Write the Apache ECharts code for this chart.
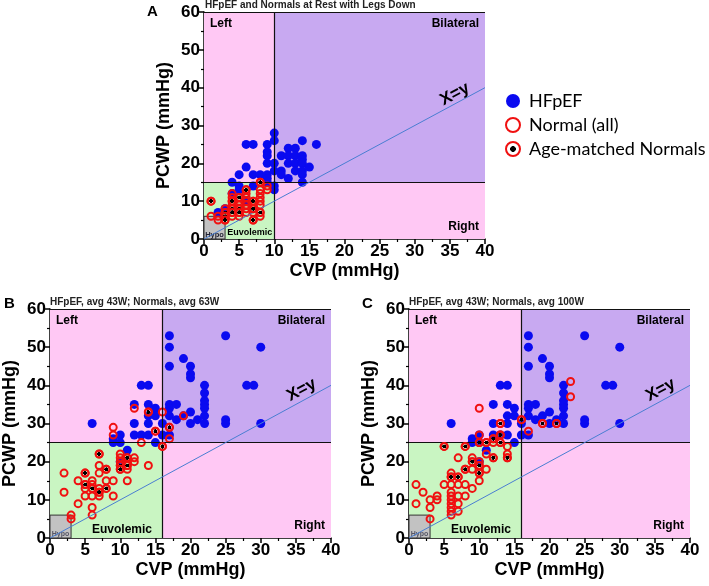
<!DOCTYPE html>
<html>
<head>
<meta charset="utf-8">
<script src="https://cdn.jsdelivr.net/npm/echarts@6/dist/echarts.min.js"></script>
<style>html,body{margin:0;padding:0;background:#fff;}#c{width:709px;height:586px;}</style>
</head>
<body>
<div id="c"></div>
<script>
// ---------------- DATA ----------------
const xTickValues = [0,5,10,15,20,25,30,35,40];
const yTickValues = [0,10,20,30,40,50,60];

const titleA = 'HFpEF and Normals at Rest with Legs Down';
const titleB = 'HFpEF, avg 43W; Normals, avg 63W';
const titleC = 'HFpEF, avg 43W; Normals, avg 100W';

// Panel A (rest, legs down)
const hfpefA = [[2,7],[3,8],[4,15],[4,12],[5,17],[5,14],[5,13],[6,25],[6,19],[6,10],[7,25],[7,17],[7,14],[8,17],
  [9,25],[9,23],[9,22],[9,20],[9,17],[9,16],[9,15],[10,28],[10,26],[10,20],[10,18],[10,14],[10,13],[11,22],[11,18],[11,17],
  [12,24],[12,22],[12,20],[12,16],[13,24],[13,22],[13,20],[13,18],[14,26],[14,22],[14,21],[14,20],[14,18],[14,17],[14,15],
  [15,19],[16,25]];
const normalsA = [[1,10],[1,6],[2,6],[2,5],[3,8],[3,7],[3,6],[3,5],[4,12],[4,11],[4,10],[4,9],[4,8],[4,7],[4,6],
  [5,11],[5,10],[5,9],[5,8],[5,7],[5,6],[6,13],[6,12],[6,11],[6,10],[6,9],[6,8],[6,7],[7,10],[7,9],[7,8],[7,7],[7,5],
  [8,15],[8,13],[8,12],[8,11],[8,10],[8,9],[8,7],[8,6],[9,14],[9,13]];
const ageA = [[1,10],[3,7],[3,6],[3,5],[4,10],[4,8],[4,7],[5,11],[5,8],[5,7],[6,13],[7,10],[7,8],[7,5],[8,15],[8,7]];

// Panels B and C share the same HFpEF exercise data
const hfpefBC = [[6,30],[9,26],[9,25],[10,27],[10,25],[10,20],[11,23],[12,35],[12,30],[12,27],[13,40],[13,27],
  [14,40],[14,35],[14,32],[14,30],[14,27],[15,34],[15,32],[15,25],[16,30],[16,27],[17,53],[17,50],[17,45],[17,35],
  [17,34],[17,32],[17,27],[18,35],[18,31],[19,47],[19,32],[20,45],[20,43],[20,42],[20,33],[20,30],[21,31],
  [22,40],[22,38],[22,36],[22,35],[22,34],[22,32],[22,30],[25,53],[25,31],[25,30],[28,40],[29,40],[30,50],[30,30]];

const normalsB = [[2,17],[2,12],[3,6],[3,5],[4,15],[4,9],[5,17],[5,14],[5,13],[5,11],[6,15],[6,14],[6,13],[6,11],
  [6,8],[6,6],[7,22],[7,19],[7,17],[7,13],[7,12],[7,11],[8,18],[8,15],[8,13],[9,15],[9,11],[9,29],[9,27],
  [10,22],[10,21],[10,20],[10,19],[10,18],[11,21],[11,20],[11,19],[11,18],[11,15],[12,21],[12,20],[12,34],
  [13,25],[14,19],[14,33],[15,28],[16,33],[16,24],[17,29],[17,26],[19,32]];
const ageB = [[5,17],[5,14],[6,13],[7,22],[7,12],[8,18],[8,13],[10,19],[10,18],[11,21],[11,19],[14,33],[15,28],[16,24],[17,29]];

const normalsC = [[1,14],[1,9],[2,12],[3,10],[3,8],[3,5],[4,11],[4,10],[5,24],[5,14],[6,17],[6,16],[6,14],[6,12],
  [6,11],[6,10],[6,9],[6,8],[6,7],[6,6],[7,21],[7,16],[7,14],[7,11],[7,9],[7,7],[8,24],[8,18],[8,14],[8,11],
  [9,21],[9,20],[9,18],[9,13],[10,34],[10,27],[10,25],[10,20],[10,19],[10,17],[10,15],[11,25],[11,22],[11,18],
  [12,26],[12,25],[12,21],[13,30],[13,27],[13,25],[14,24],[14,22],[14,21],[16,31],[17,28],[19,30],[21,30],[23,41],[23,37]];
const ageC = [[5,24],[6,16],[7,16],[8,24],[8,18],[9,20],[10,25],[10,19],[10,17],[11,25],[12,26],[12,21],[13,30],
  [13,27],[13,25],[14,21],[16,31],[19,30],[21,30]];

// thresholds (CVP, PCWP) of each panel
const thresholdsA = [10, 15];
const thresholdsBC = [16, 25];
const hypoLimits = [3, 6];

// ---------------- STYLE ----------------
const BLUE = '#0A0AF0', RED = '#F01010';
const PINK = '#FFC8F4', PURPLE = '#C8A9F1', GREEN = '#C9F5C2', GRAY = '#C2C2C2';
const FONT = 'Liberation Sans, Arial, sans-serif';

const ageFill = new echarts.graphic.RadialGradient(0.5, 0.5, 0.5, [
  {offset: 0, color: '#000'}, {offset: 0.40, color: '#000'},
  {offset: 0.46, color: 'rgba(255,255,255,0)'}, {offset: 1, color: 'rgba(255,255,255,0)'}]);
const ageLegendFill = new echarts.graphic.RadialGradient(0.5, 0.5, 0.5, [
  {offset: 0, color: '#000'}, {offset: 0.34, color: '#000'},
  {offset: 0.38, color: '#fff'}, {offset: 1, color: '#fff'}]);

const panels = [
  {grid: {left: 204, top: 12, width: 281, height: 227}, thr: thresholdsA, hf: hfpefA, nm: normalsA, am: ageA,
   euvo: [3, 10], euvoFont: 9, hypoFont: 7.5, hypoColor: '#223', xyPos: [35.7, 38.3]},
  {grid: {left: 49, top: 309, width: 282, height: 229}, thr: thresholdsBC, hf: hfpefBC, nm: normalsB, am: ageB,
   euvo: [4.5, 16], euvoFont: 12, hypoFont: 7, hypoColor: '#556', xyPos: [35.8, 38.8]},
  {grid: {left: 409, top: 309, width: 281, height: 229}, thr: thresholdsBC, hf: hfpefBC, nm: normalsC, am: ageC,
   euvo: [4.5, 16], euvoFont: 12, hypoFont: 7, hypoColor: '#556', xyPos: [35.8, 38.8]}
];

const grids = [], xAxes = [], yAxes = [], series = [];
panels.forEach((p, i) => {
  grids.push(p.grid);
  xAxes.push({
    gridIndex: i, type: 'value', min: xTickValues[0], max: xTickValues[xTickValues.length - 1], interval: 5,
    axisLine: {lineStyle: {color: '#000', width: 1.5}},
    axisTick: {show: true, length: 5, lineStyle: {color: '#000', width: 1.5}},
    minorTick: {show: true, splitNumber: 2, length: 3, lineStyle: {color: '#000', width: 1.2}},
    splitLine: {show: false},
    axisLabel: {fontSize: 17, fontWeight: 'bold', color: '#000', fontFamily: FONT, margin: 4},
    name: 'CVP (mmHg)', nameLocation: 'middle', nameGap: 23,
    nameTextStyle: {fontSize: 18, fontWeight: 'bold', color: '#000', fontFamily: FONT}
  });
  yAxes.push({
    gridIndex: i, type: 'value', min: yTickValues[0], max: yTickValues[yTickValues.length - 1], interval: 10,
    axisLine: {lineStyle: {color: '#000', width: 1.5}},
    axisTick: {show: true, length: 5, lineStyle: {color: '#000', width: 1.5}},
    minorTick: {show: true, splitNumber: 2, length: 3, lineStyle: {color: '#000', width: 1.2}},
    splitLine: {show: false},
    axisLabel: {fontSize: 17, fontWeight: 'bold', color: '#000', fontFamily: FONT, margin: 4},
    name: 'PCWP (mmHg)', nameLocation: 'middle', nameGap: 31,
    nameTextStyle: {fontSize: 18, fontWeight: 'bold', color: '#000', fontFamily: FONT}
  });
  const tx = p.thr[0], ty = p.thr[1];
  const regLabel = (pos, size) => ({show: true, position: pos, distance: 6, fontSize: size || 12,
    fontWeight: 'bold', color: '#000', fontFamily: FONT});
  series.push({
    type: 'line', xAxisIndex: i, yAxisIndex: i, data: [], silent: true,
    markArea: {silent: true, data: [
      [{name: 'Left', xAxis: 0, yAxis: ty, itemStyle: {color: PINK}, label: regLabel('insideTopLeft')}, {xAxis: tx, yAxis: 60}],
      [{name: 'Bilateral', xAxis: tx, yAxis: ty, itemStyle: {color: PURPLE}, label: regLabel('insideTopRight')}, {xAxis: 40, yAxis: 60}],
      [{name: 'Right', xAxis: tx, yAxis: 0, itemStyle: {color: PINK}, label: regLabel('insideBottomRight')}, {xAxis: 40, yAxis: ty}],
      [{name: '', xAxis: 0, yAxis: 0, itemStyle: {color: GREEN}}, {xAxis: tx, yAxis: ty}],
      [{name: 'Euvolemic', xAxis: p.euvo[0], yAxis: 0, itemStyle: {color: 'rgba(0,0,0,0)'},
        label: {show: true, position: 'insideBottom', distance: 2, fontSize: p.euvoFont, fontWeight: 'bold', color: '#000', fontFamily: FONT}},
       {xAxis: p.euvo[1], yAxis: hypoLimits[1]}],
      [{name: 'Hypo', xAxis: 0, yAxis: 0, itemStyle: {color: GRAY, borderColor: '#333', borderWidth: 1},
        label: {show: true, position: 'insideBottom', distance: 1, fontSize: p.hypoFont, fontWeight: 'bold', color: p.hypoColor, fontFamily: FONT}},
       {xAxis: hypoLimits[0], yAxis: hypoLimits[1]}]
    ]},
    markLine: {silent: true, symbol: 'none', label: {show: false},
      lineStyle: {color: '#111', width: 1.2, type: 'solid'},
      data: [
        [{coord: [tx, 0]}, {coord: [tx, 60]}],
        [{coord: [0, ty]}, {coord: [40, ty]}],
        [{coord: [0, 60]}, {coord: [40, 60]}],
        [{coord: [0, 0], lineStyle: {color: '#4A7ED2', width: 1}}, {coord: [40, 40]}]
      ]},
    markPoint: {silent: true, symbol: 'circle', symbolSize: 1, itemStyle: {color: 'rgba(0,0,0,0)'},
      data: [{coord: p.xyPos, value: 'X=y',
        label: {show: true, position: 'inside', formatter: 'X=y', rotate: 28, fontSize: 17, fontWeight: 'bold', color: '#000', fontFamily: FONT}}]}
  });
  series.push({name: 'HFpEF', type: 'scatter', xAxisIndex: i, yAxisIndex: i, data: p.hf, symbolSize: 9,
    itemStyle: {color: BLUE, opacity: 1}, z: 3});
  series.push({name: 'Normal (all)', type: 'scatter', xAxisIndex: i, yAxisIndex: i, data: p.nm, symbolSize: 7,
    itemStyle: {color: 'rgba(255,255,255,0)', borderColor: RED, borderWidth: 2, opacity: 1}, z: 4});
  series.push({name: 'Age-matched Normals', type: 'scatter', xAxisIndex: i, yAxisIndex: i, data: p.am, symbolSize: 7,
    itemStyle: {color: ageFill, borderColor: RED, borderWidth: 2, opacity: 1}, z: 5});
});

const titleStyle = {fontSize: 10, fontWeight: 'bold', color: '#222', fontFamily: FONT};
const letterStyle = {fontSize: 15, fontWeight: 'bold', color: '#000', fontFamily: FONT};

const option = {
  backgroundColor: '#fff',
  animation: false,
  title: [
    {text: 'A', left: 147, top: 4, padding: 0, textStyle: letterStyle},
    {text: titleA, left: 205, top: 0, padding: 0, textStyle: titleStyle},
    {text: 'B', left: 4, top: 296, padding: 0, textStyle: letterStyle},
    {text: titleB, left: 50, top: 297, padding: 0, textStyle: titleStyle},
    {text: 'C', left: 362, top: 296, padding: 0, textStyle: letterStyle},
    {text: titleC, left: 409, top: 297, padding: 0, textStyle: titleStyle}
  ],
  legend: {
    orient: 'vertical', left: 505, top: 92, padding: 0, itemGap: 6, itemWidth: 14, itemHeight: 14,
    selectedMode: false,
    textStyle: {fontSize: 18, color: '#000', fontFamily: 'Lato, Carlito, sans-serif', padding: [0, 0, 0, 4]},
    data: [
      {name: 'HFpEF', icon: 'circle', itemStyle: {color: BLUE, opacity: 1}},
      {name: 'Normal (all)', icon: 'circle', itemStyle: {color: '#fff', borderColor: RED, borderWidth: 2, opacity: 1}},
      {name: 'Age-matched Normals', icon: 'circle', itemStyle: {color: ageLegendFill, borderColor: RED, borderWidth: 2, opacity: 1}}
    ]
  },
  grid: grids, xAxis: xAxes, yAxis: yAxes, series: series
};

const chart = echarts.init(document.getElementById('c'), null, {renderer: 'canvas'});
chart.setOption(option);
</script>
</body>
</html>
